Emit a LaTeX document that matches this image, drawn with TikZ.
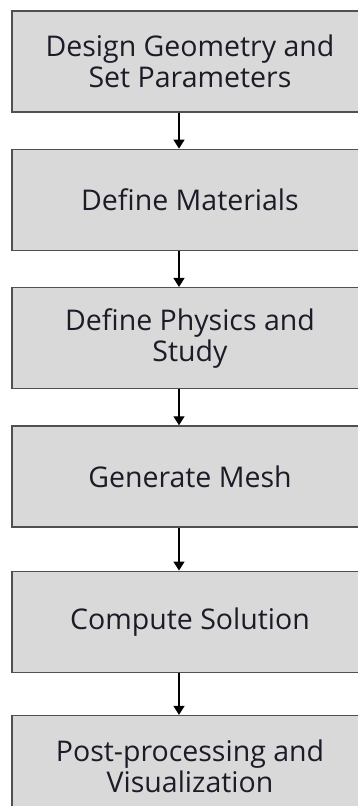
\documentclass[tikz,border=0pt]{standalone}
\usepackage{fontspec}
\setmainfont{Open Sans}
\usetikzlibrary{arrows.meta}
\usetikzlibrary{positioning}

\definecolor{boxgray}{HTML}{D9D9D9}
\definecolor{edgegray}{HTML}{505050}
\definecolor{txtdark}{HTML}{1C1C28}

\tikzset{
    stepbox/.style = {rectangle, draw=edgegray, fill=boxgray, line width=1.3pt,
        minimum width=356pt, minimum height=101pt, align=center,
        text=txtdark, font=\fontsize{28.5pt}{31pt}\selectfont, inner sep=0pt},
    flow/.style = {line width=1.3pt, -{Triangle[length=9pt,width=11pt]}}
}

\begin{document}
\begin{tikzpicture}[x=1pt, y=1pt, node distance=36pt]

    \useasboundingbox (0,0) rectangle (358,-806);
    \clip (0,0) rectangle (358,-806);

    % column of the arrows
    \coordinate (ax) at (179,0);

    % steps
    \node[stepbox] (geom) at (190,-61.5) {Design Geometry and\\Set Parameters};
    \node[stepbox, below=of geom] (mat) {Define Materials};
    \node[stepbox, below=of mat] (phys) {Define Physics and\\Study};
    \node[stepbox, below=of phys] (mesh) {Generate Mesh};
    \node[stepbox, below=43pt of mesh] (solve) {Compute Solution};
    \node[stepbox, below=42pt of solve] (post) {Post-processing and\\Visualization};

    % arrows
    \draw[flow] (geom.south -| ax) -- (mat.north -| ax);
    \draw[flow] (mat.south -| ax) -- (phys.north -| ax);
    \draw[flow] (phys.south -| ax) -- (mesh.north -| ax);
    \draw[flow] (mesh.south -| ax) -- (solve.north -| ax);
    \draw[flow] (solve.south -| ax) -- (post.north -| ax);

\end{tikzpicture}
\end{document}
